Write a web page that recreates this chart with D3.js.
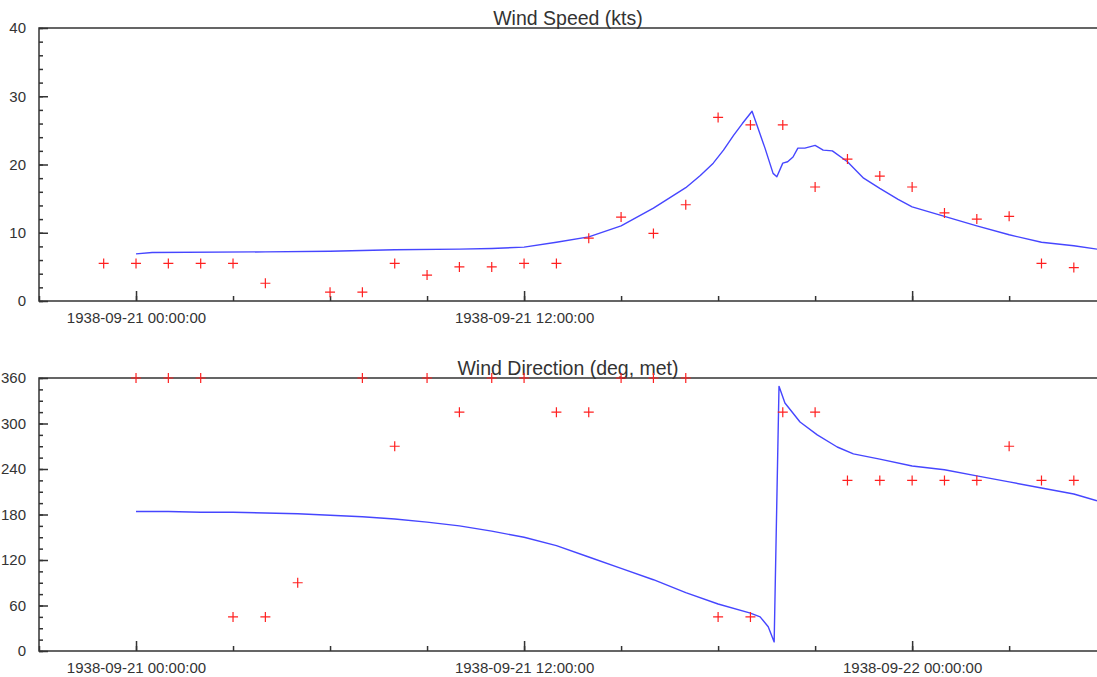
<!DOCTYPE html>
<html>
<head>
<meta charset="utf-8">
<script src="https://cdn.jsdelivr.net/npm/d3@7"></script>
<style>
  html, body { margin: 0; padding: 0; background: #fff; }
  svg { display: block; font-family: "Liberation Sans", Arial, sans-serif; }
</style>
</head>
<body>
<svg id="chart" width="1097" height="677"></svg>
<script>
// Hourly station observations
const obsTimes = [
  "1938-09-20 23:00", "1938-09-21 00:00", "1938-09-21 01:00", "1938-09-21 02:00",
  "1938-09-21 03:00", "1938-09-21 04:00", "1938-09-21 05:00", "1938-09-21 06:00",
  "1938-09-21 07:00", "1938-09-21 08:00", "1938-09-21 09:00", "1938-09-21 10:00",
  "1938-09-21 11:00", "1938-09-21 12:00", "1938-09-21 13:00", "1938-09-21 14:00",
  "1938-09-21 15:00", "1938-09-21 16:00", "1938-09-21 17:00", "1938-09-21 18:00",
  "1938-09-21 19:00", "1938-09-21 20:00", "1938-09-21 21:00", "1938-09-21 22:00",
  "1938-09-21 23:00", "1938-09-22 00:00", "1938-09-22 01:00", "1938-09-22 02:00",
  "1938-09-22 03:00", "1938-09-22 04:00", "1938-09-22 05:00"
];
const obsSpeed = [
  5.5, 5.5, 5.5, 5.5, 5.5, 2.6, null, 1.3,
  1.3, 5.5, 3.8, 5.0, 5.0, 5.5, 5.5, 9.2,
  12.3, 9.9, 14.1, 26.9, 25.8, 25.8, 16.7, 20.8,
  18.3, 16.7, 12.9, 12.0, 12.4, 5.5, 4.9
];
const obsDir = [
  null, 360, 360, 360, 45, 45, 90, null,
  360, 270, 360, 315, 360, 360, 315, 315,
  360, 360, 360, 45, 45, 315, 315, 225,
  225, 225, 225, 225, 270, 225, 225
];

// Modelled wind speed (kts)
const modelSpeedTimes = [
  "1938-09-21 00:00", "1938-09-21 00:30", "1938-09-21 04:00", "1938-09-21 06:00",
  "1938-09-21 08:00", "1938-09-21 10:00", "1938-09-21 11:00", "1938-09-21 12:00",
  "1938-09-21 13:00", "1938-09-21 14:00", "1938-09-21 15:00", "1938-09-21 16:00",
  "1938-09-21 17:00", "1938-09-21 17:27", "1938-09-21 17:51", "1938-09-21 18:10",
  "1938-09-21 18:29", "1938-09-21 18:45", "1938-09-21 19:03", "1938-09-21 19:12",
  "1938-09-21 19:27", "1938-09-21 19:42", "1938-09-21 19:49", "1938-09-21 20:00",
  "1938-09-21 20:09", "1938-09-21 20:19", "1938-09-21 20:28", "1938-09-21 20:41",
  "1938-09-21 21:00", "1938-09-21 21:15", "1938-09-21 21:32", "1938-09-21 22:00",
  "1938-09-21 22:30", "1938-09-21 23:00", "1938-09-21 23:34", "1938-09-22 00:00",
  "1938-09-22 01:00", "1938-09-22 02:00", "1938-09-22 03:00", "1938-09-22 04:00",
  "1938-09-22 05:00", "1938-09-22 05:43"
];
const modelSpeed = [
  6.9, 7.1, 7.2, 7.3,
  7.5, 7.6, 7.7, 7.9,
  8.6, 9.4, 11.0, 13.6,
  16.6, 18.4, 20.2, 22.1,
  24.3, 26.0, 27.8, 25.8,
  22.4, 18.7, 18.2, 20.2,
  20.4, 21.1, 22.4, 22.4,
  22.8, 22.1, 22.0, 20.4,
  18.0, 16.5, 14.9, 13.8,
  12.4, 11.0, 9.7, 8.6,
  8.1, 7.6
];

// Modelled wind direction (deg, meteorological)
const modelDirTimes = [
  "1938-09-21 00:00", "1938-09-21 01:00", "1938-09-21 02:00", "1938-09-21 03:00",
  "1938-09-21 04:00", "1938-09-21 05:00", "1938-09-21 06:00", "1938-09-21 07:00",
  "1938-09-21 08:00", "1938-09-21 09:00", "1938-09-21 10:00", "1938-09-21 11:00",
  "1938-09-21 12:00", "1938-09-21 13:00", "1938-09-21 14:00", "1938-09-21 15:00",
  "1938-09-21 16:00", "1938-09-21 17:00", "1938-09-21 18:00", "1938-09-21 19:00",
  "1938-09-21 19:18", "1938-09-21 19:33", "1938-09-21 19:44", "1938-09-21 19:53",
  "1938-09-21 20:04", "1938-09-21 20:32", "1938-09-21 21:04", "1938-09-21 21:41",
  "1938-09-21 22:11", "1938-09-21 23:00", "1938-09-22 00:00", "1938-09-22 01:00",
  "1938-09-22 02:00", "1938-09-22 03:00", "1938-09-22 04:00", "1938-09-22 05:00",
  "1938-09-22 05:43"
];
const modelDir = [
  184, 184, 183, 183,
  182, 181, 179, 177,
  174, 170, 165, 158,
  150, 139, 124, 109,
  94, 77, 62, 50,
  45, 32, 12, 349,
  327, 302, 285, 269,
  260, 253, 244, 239,
  231, 223, 215, 207,
  198
];

// Axis ticks
const speedTicks = [0, 10, 20, 30, 40];
const dirTicks = [0, 60, 120, 180, 240, 300, 360];
const speedTimeLabels = ["1938-09-21 00:00", "1938-09-21 12:00"];
const dirTimeLabels = ["1938-09-21 00:00", "1938-09-21 12:00", "1938-09-22 00:00"];

const parse = d3.utcParse("%Y-%m-%d %H:%M");
const fmt = d3.utcFormat("%Y-%m-%d %H:%M:%S");
const key = d3.utcFormat("%Y-%m-%d %H:%M");

const svg = d3.select("#chart");
const left = 39, right = 1097;

const x = d3.scaleUtc()
  .domain([parse("1938-09-20 21:00"), parse("1938-09-22 05:43")])
  .range([left, right]);

const AXIS = "#333";
const TEXT = "#333";

function panel(cfg) {
  const y = d3.scaleLinear().domain(cfg.yDomain).range([cfg.bottom, cfg.top]);
  const g = svg.append("g");

  const clipId = "clip-" + cfg.id;
  g.append("clipPath").attr("id", clipId)
    .append("rect").attr("x", left).attr("y", cfg.top - 10)
    .attr("width", right - left).attr("height", cfg.bottom - cfg.top + 10);

  // minor x ticks, every 3 hours
  const xMinor = d3.axisBottom(x).ticks(d3.utcHour.every(3)).tickSize(-5).tickFormat("");
  g.append("g").attr("transform", `translate(0,${cfg.bottom})`).call(xMinor)
    .call(a => a.select(".domain").remove())
    .call(a => a.selectAll("line").attr("stroke", AXIS).attr("stroke-width", 1.5));

  // major x ticks, every 12 hours
  const labelSet = new Set(cfg.timeLabels);
  const xMajor = d3.axisBottom(x).ticks(d3.utcHour.every(12)).tickSize(-10).tickPadding(11)
    .tickFormat(d => labelSet.has(key(d)) ? fmt(d) : "");
  g.append("g").attr("transform", `translate(0,${cfg.bottom})`).call(xMajor)
    .call(a => a.select(".domain").remove())
    .call(a => a.selectAll("line").attr("stroke", AXIS).attr("stroke-width", 1.5))
    .call(a => a.selectAll("text").attr("font-size", 15).attr("fill", TEXT)
      .attr("font-family", '"Liberation Sans", Arial, sans-serif'));

  // minor y ticks
  const yMinor = d3.axisLeft(y).tickValues(d3.range(cfg.yDomain[0], cfg.yDomain[1] + 1e-9, cfg.yMinorStep))
    .tickSize(-4).tickFormat("");
  g.append("g").attr("transform", `translate(${left},0)`).call(yMinor)
    .call(a => a.select(".domain").remove())
    .call(a => a.selectAll("line").attr("stroke", AXIS).attr("stroke-width", 1.5));

  // major y ticks
  const yMajor = d3.axisLeft(y).tickValues(cfg.yTicks).tickSize(-9).tickPadding(13);
  g.append("g").attr("transform", `translate(${left},0)`).call(yMajor)
    .call(a => a.select(".domain").remove())
    .call(a => a.selectAll("line").attr("stroke", AXIS).attr("stroke-width", 1.5))
    .call(a => a.selectAll("text").attr("font-size", 15).attr("fill", TEXT)
      .attr("font-family", '"Liberation Sans", Arial, sans-serif'));

  // frame: left, bottom and top edges
  g.append("path")
    .attr("d", `M${right},${cfg.top}H${left}V${cfg.bottom}H${right}`)
    .attr("fill", "none").attr("stroke", AXIS).attr("stroke-width", 1.5);

  // title
  g.append("text")
    .attr("x", (left + right) / 2)
    .attr("y", cfg.top - 3.5)
    .attr("text-anchor", "middle")
    .attr("font-size", 19.5)
    .attr("fill", TEXT)
    .text(cfg.title);

  // model line
  const lineData = cfg.lineTimes.map((t, i) => ({ t: parse(t), v: cfg.lineValues[i] }));
  g.append("path")
    .datum(lineData)
    .attr("clip-path", `url(#${clipId})`)
    .attr("fill", "none")
    .attr("stroke", "#4646ff")
    .attr("stroke-width", 1.4)
    .attr("stroke-linejoin", "round")
    .attr("d", d3.line().x(d => x(d.t)).y(d => y(d.v)));

  // observation markers
  const pts = obsTimes.map((t, i) => ({ t: parse(t), v: cfg.obs[i] })).filter(d => d.v != null);
  g.append("g").selectAll("path").data(pts).join("path")
    .attr("transform", d => `translate(${x(d.t)},${y(d.v)})`)
    .attr("d", "M-5,0H5M0,-5V5")
    .attr("stroke", "#ff2020")
    .attr("stroke-width", 1.2)
    .attr("fill", "none");
}

panel({
  id: "speed", title: "Wind Speed (kts)", top: 28, bottom: 301,
  yDomain: [0, 40], yTicks: speedTicks, yMinorStep: 2,
  timeLabels: speedTimeLabels,
  lineTimes: modelSpeedTimes, lineValues: modelSpeed, obs: obsSpeed
});

panel({
  id: "dir", title: "Wind Direction (deg, met)", top: 378, bottom: 651,
  yDomain: [0, 360], yTicks: dirTicks, yMinorStep: 15,
  timeLabels: dirTimeLabels,
  lineTimes: modelDirTimes, lineValues: modelDir, obs: obsDir
});
</script>
</body>
</html>
